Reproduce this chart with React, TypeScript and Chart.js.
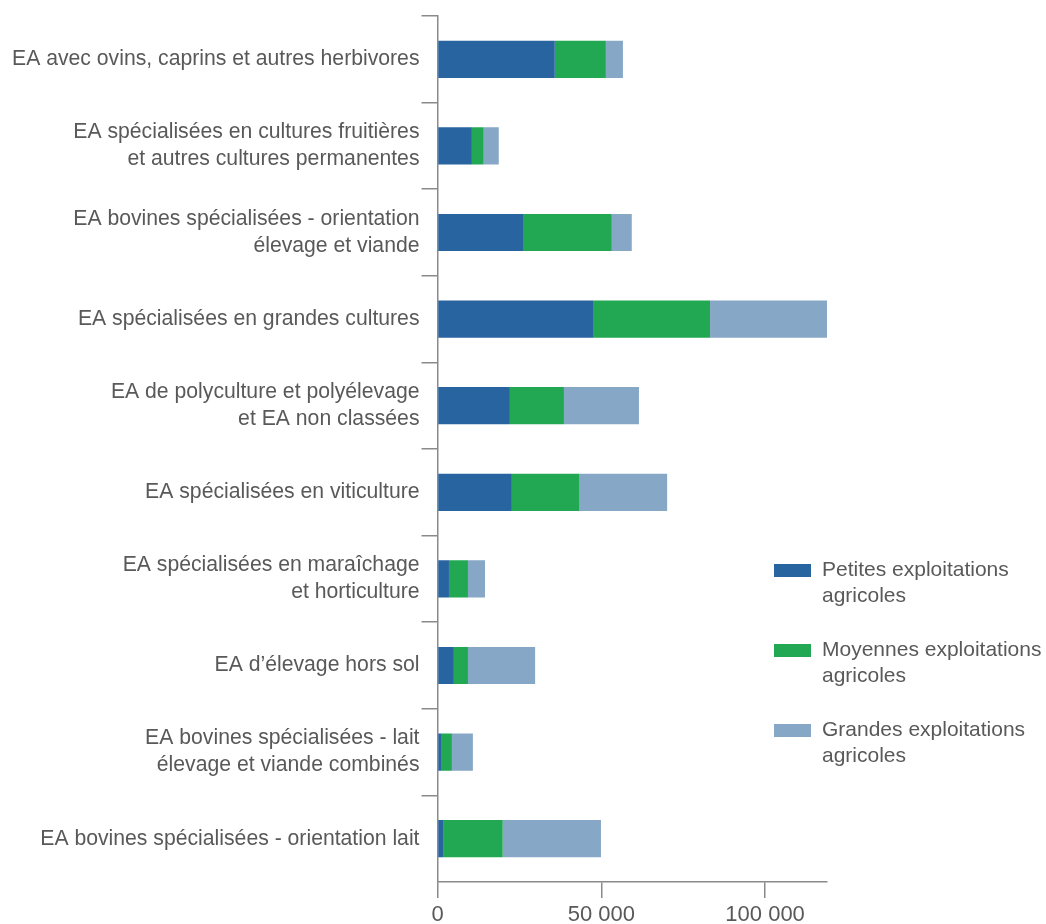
import React, { useEffect, useRef } from "react";
import { Chart, registerables } from "chart.js";

Chart.register(...registerables);

const FONT = "'Liberation Sans', Arial, Helvetica, sans-serif";
const TEXT_COLOR = "#595959";
const AXIS_COLOR = "#8a8a8a";

const categories: (string | string[])[] = [
  "EA avec ovins, caprins et autres herbivores",
  ["EA spécialisées en cultures fruitières", "et autres cultures permanentes"],
  ["EA bovines spécialisées - orientation", "élevage et viande"],
  "EA spécialisées en grandes cultures",
  ["EA de polyculture et polyélevage", "et EA non classées"],
  "EA spécialisées en viticulture",
  ["EA spécialisées en maraîchage", "et horticulture"],
  "EA d’élevage hors sol",
  ["EA bovines spécialisées - lait", "élevage et viande combinés"],
  "EA bovines spécialisées - orientation lait",
];

const petites = [35800, 10500, 26100, 47700, 22100, 22700, 3500, 5000, 1300, 1900];
const moyennes = [15600, 3600, 27100, 35500, 16500, 20500, 5800, 4300, 3100, 18000];
const grandes = [5200, 4600, 6100, 35700, 22900, 26900, 5200, 20500, 6400, 30000];

const seriesNames: string[][] = [
  ["Petites exploitations", "agricoles"],
  ["Moyennes exploitations", "agricoles"],
  ["Grandes exploitations", "agricoles"],
];
const seriesColors = ["#2864A0", "#22A853", "#86A7C6"];

const xTickValues = [0, 50000, 100000];

const totals = petites.map((v, i) => v + moyennes[i] + grandes[i]);
const xMax = Math.max(...totals);

const formatNumber = (v: number) =>
  Math.round(v).toString().replace(/\B(?=(\d{3})+(?!\d))/g, " ");

const sideLegend = {
  id: "sideLegend",
  afterDraw(chart: any) {
    const ctx = chart.ctx as CanvasRenderingContext2D;
    ctx.save();
    ctx.font = `21px ${FONT}`;
    ctx.textBaseline = "middle";
    ctx.textAlign = "left";
    chart.data.datasets.forEach((ds: any, i: number) => {
      const cy = 570.5 + i * 80;
      ctx.fillStyle = ds.backgroundColor;
      ctx.fillRect(774, cy - 6.5, 37, 13);
      ctx.fillStyle = TEXT_COLOR;
      seriesNames[i].forEach((line, j) => {
        ctx.fillText(line, 822, cy + j * 26);
      });
    });
    ctx.restore();
  },
};

export default function App() {
  const canvasRef = useRef<HTMLCanvasElement | null>(null);

  useEffect(() => {
    if (!canvasRef.current) return;
    const datasets = [petites, moyennes, grandes].map((data, i) => ({
      label: seriesNames[i].join(" "),
      data,
      backgroundColor: seriesColors[i],
      borderWidth: 0,
      barPercentage: 0.43,
      categoryPercentage: 1,
    }));
    const chart = new Chart(canvasRef.current, {
      type: "bar",
      data: { labels: categories as any, datasets },
      options: {
        indexAxis: "y",
        animation: false,
        responsive: true,
        maintainAspectRatio: false,
        layout: { padding: { top: 16, right: 219, bottom: 0, left: 0 } },
        plugins: {
          legend: { display: false },
          tooltip: { enabled: false },
        },
        scales: {
          x: {
            stacked: true,
            min: 0,
            max: xMax,
            afterBuildTicks: (scale: any) => {
              scale.ticks = xTickValues.map((v) => ({ value: v }));
            },
            afterFit: (scale: any) => {
              scale.height = 42;
            },
            grid: {
              display: true,
              drawOnChartArea: false,
              drawTicks: true,
              tickLength: 16,
              color: AXIS_COLOR,
              lineWidth: 1.5,
            },
            border: { display: true, color: AXIS_COLOR, width: 1.5 },
            ticks: {
              autoSkip: false,
              maxRotation: 0,
              padding: 4,
              color: TEXT_COLOR,
              font: { family: FONT, size: 22 },
              callback: (v: any) => formatNumber(Number(v)),
            },
          },
          y: {
            stacked: true,
            afterFit: (scale: any) => {
              scale.width = 437.5;
            },
            grid: {
              display: true,
              offset: true,
              drawOnChartArea: false,
              drawTicks: true,
              tickLength: 16,
              color: (ctx: any) =>
                ctx.index === undefined || ctx.index >= categories.length
                  ? "rgba(0,0,0,0)"
                  : AXIS_COLOR,
              lineWidth: 1.5,
            },
            border: { display: true, color: AXIS_COLOR, width: 1.5 },
            ticks: {
              autoSkip: false,
              padding: 2,
              color: TEXT_COLOR,
              font: { family: FONT, size: 21.2, lineHeight: 27 / 21.2 },
            },
          },
        },
      },
      plugins: [sideLegend],
    });
    return () => chart.destroy();
  }, []);

  return (
    <div style={{ position: "absolute", left: 0, top: 0, width: 1046, height: 924 }}>
      <canvas ref={canvasRef} />
    </div>
  );
}
